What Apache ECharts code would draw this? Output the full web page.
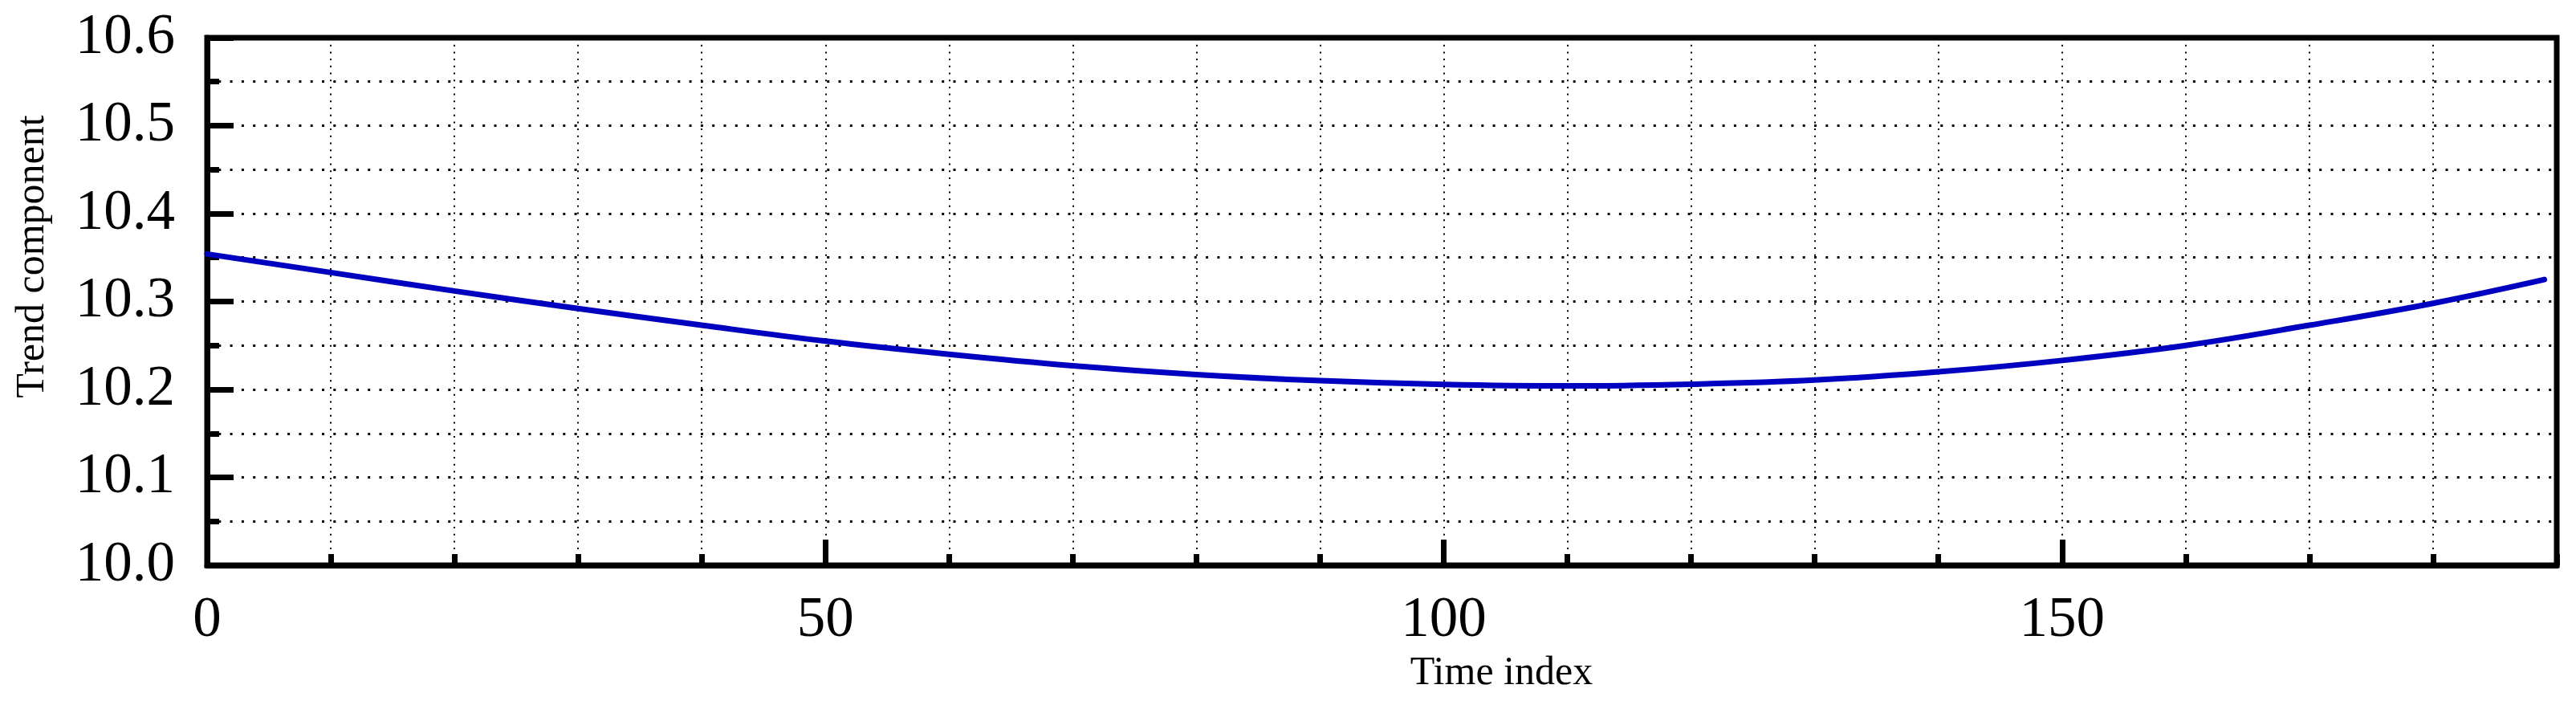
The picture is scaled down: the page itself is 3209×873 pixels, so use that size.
<!DOCTYPE html>
<html>
<head>
<meta charset="utf-8">
<script src="https://cdn.jsdelivr.net/npm/echarts@6/dist/echarts.min.js"></script>
<style>
  html, body { margin: 0; padding: 0; background: #fff; }
  #main { width: 3209px; height: 873px; }
</style>
</head>
<body>
<div id="main"></div>
<script>
// values
var timeIdx = [0, 10, 20, 30, 40, 50, 60, 70, 80, 90, 100, 110, 120, 130, 140, 150, 160, 170, 180, 189];
var trend = [10.354, 10.333, 10.312, 10.292, 10.273, 10.255, 10.240, 10.227, 10.217, 10.210,
             10.2057, 10.204, 10.206, 10.2107, 10.220, 10.233, 10.250, 10.273, 10.298, 10.325];
var xMajorTicks = [0, 50, 100, 150];

var font = 'Liberation Serif, Times New Roman, serif';
var dotH = { color: '#000', width: 3, type: [3, 11.3] };
var dotV = { color: '#000', width: 2, type: [2, 6.7] };

var points = timeIdx.map(function (t, i) { return [t, trend[i]]; });

var myChart = echarts.init(document.getElementById('main'));
var option = {
    backgroundColor: '#fff',
    animation: false,
    grid: {
        left: 258, right: 24, top: 47, bottom: 169,
        show: true, borderColor: '#000', borderWidth: 7, backgroundColor: 'transparent'
    },
    xAxis: [
        {
            type: 'value', position: 'bottom', min: 0, max: 190, interval: 10,
            axisLine: { show: true, lineStyle: { color: '#000', width: 7 } },
            axisTick: { show: true, inside: true, length: 14, lineStyle: { color: '#000', width: 7 } },
            axisLabel: { show: false },
            splitLine: { show: true, lineStyle: dotV }
        },
        {
            type: 'value', position: 'bottom', min: 0, max: 190, interval: 50,
            axisLine: { show: false },
            axisTick: { show: true, inside: true, length: 32, lineStyle: { color: '#000', width: 7 } },
            axisLabel: {
                show: true, margin: 34, showMaxLabel: false,
                color: '#000', fontFamily: font, fontSize: 71,
                formatter: function (v) { return xMajorTicks.indexOf(v) >= 0 ? String(v) : ''; }
            },
            splitLine: { show: false },
            name: 'Time index', nameLocation: 'middle', nameGap: 102,
            nameTextStyle: { color: '#000', fontFamily: font, fontSize: 50, padding: [0, 0, 0, 298] }
        }
    ],
    yAxis: {
        type: 'value', min: 10.0, max: 10.6, interval: 0.1,
        axisLine: { show: true, lineStyle: { color: '#000', width: 7 } },
        axisTick: { show: true, inside: true, length: 33, lineStyle: { color: '#000', width: 7 } },
        minorTick: { show: true, splitNumber: 2, length: 15, lineStyle: { color: '#000', width: 7 } },
        axisLabel: {
            margin: 40, color: '#000', fontFamily: font, fontSize: 71,
            formatter: function (v) { return v.toFixed(1); }
        },
        splitLine: { show: true, lineStyle: dotH },
        minorSplitLine: { show: true, lineStyle: dotH },
        name: 'Trend component', nameLocation: 'middle', nameGap: 192,
        nameTextStyle: { color: '#000', fontFamily: font, fontSize: 50, padding: [0, 0, 0, 112] }
    },
    series: [
        {
            type: 'line', xAxisIndex: 0, data: points,
            smooth: 0.4, showSymbol: false, z: 5,
            lineStyle: { color: '#0000c0', width: 7, cap: 'round' }
        }
    ]
};
myChart.setOption(option);
</script>
</body>
</html>
